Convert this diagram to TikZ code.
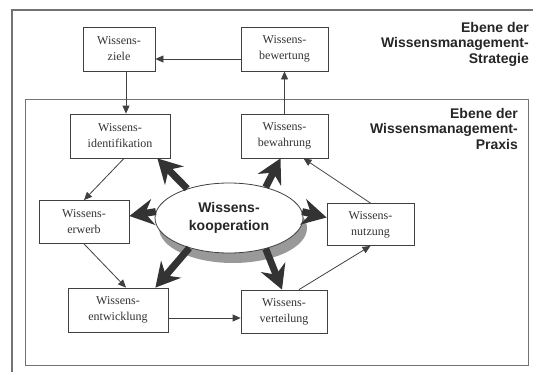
\documentclass[tikz,border=0pt]{standalone}
\usepackage{fontspec}
\setmainfont{Liberation Serif}
\newfontfamily\headfont{Liberation Sans}
\usetikzlibrary{arrows.meta,shadows,shapes.geometric}

\begin{document}
\begin{tikzpicture}[x=1pt,y=-1pt,
  wbox/.style={draw=black!75, line width=0.8pt, fill=white, align=center, inner sep=0pt,
    font=\fontsize{12}{16}\selectfont, text=black!80},
  level/.style={anchor=north east, align=right, inner sep=0pt,
    font=\headfont\bfseries\fontsize{14}{15.5}\selectfont, text=black!85},
  thin/.style={draw=black!75, line width=0.8pt, -{Triangle[length=8pt,width=7pt]}},
  fat/.style={draw=black!80, line width=7pt, -{Stealth[length=24pt,width=26pt,inset=8pt]}},
  frame/.style={draw=black!55, line width=1.2pt}]
\useasboundingbox (0,0) rectangle (533,372);
\clip (0,0) rectangle (533,372);

% the two levels
\draw [frame] (12,10) rectangle (560,400);
\draw [frame, line width=1pt] (25,99) rectangle (528,365);
\node [level] (strat) at (529,22) {Ebene der\\Wissensmanagement-\\Strategie};
\node [level] (praxis) at (518,108) {Ebene der\\Wissensmanagement-\\Praxis};

% boxes
\node [wbox, minimum width=72pt, minimum height=44pt] (ziele) at (119,49) {Wissens-\\ziele};
\node [wbox, minimum width=87pt, minimum height=44pt] (bewertung) at (284.5,49) {Wissens-\\bewertung};
\node [wbox, minimum width=100pt, minimum height=44pt] (ident) at (120,136) {Wissens-\\identifikation};
\node [wbox, minimum width=87pt, minimum height=44pt] (bewahrung) at (284.5,136) {Wissens-\\bewahrung};
\node [wbox, minimum width=90pt, minimum height=43pt] (erwerb) at (84,222) {Wissens-\\erwerb};
\node [wbox, minimum width=87pt, minimum height=42pt] (nutzung) at (370.5,224.5) {Wissens-\\nutzung};
\node [wbox, minimum width=100pt, minimum height=44pt] (entw) at (118,310) {Wissens-\\entwicklung};
\node [wbox, minimum width=86pt, minimum height=43pt] (vert) at (284,311.5) {Wissens-\\verteilung};
\node [draw=black!75, line width=0.8pt, fill=white, ellipse, minimum width=148pt, minimum height=70pt,
  inner sep=0pt, align=center, font=\headfont\bfseries\fontsize{14}{18}\selectfont, text=black!85,
  drop shadow={shadow xshift=4pt, shadow yshift=-10pt, opacity=1, fill=black!40}] (koop) at (229,218)
  {Wissens-\\kooperation};

% thin cycle arrows
\path ([yshift=-10pt]bewertung.west) coordinate (bz);
\path ([yshift=-8pt]entw.east) coordinate (ev);
\draw [thin] (bz) -- (bz -| ziele.east);
\draw [thin] ([xshift=7pt]ziele.south) -- ([xshift=6pt]ident.north);
\draw [thin] (bewahrung.north) -- (bewertung.south);
\draw [thin] ([xshift=4pt]ident.south) -- (erwerb.north);
\draw [thin] (erwerb.south) -- ([xshift=8pt]entw.north);
\draw [thin] (ev) -- (ev -| vert.west);
\draw [thin] ([xshift=15pt]vert.north) -- (nutzung.south);
\draw [thin] (nutzung.north) -- ([xshift=19pt]bewahrung.south);

% fat arrows out of the cooperation
\draw [fat] (koop.145) -- ([xshift=-13pt]ident.south east);
\draw [fat] (koop.40) -- ([xshift=-4pt]bewahrung.south);
\draw [fat] (koop.175) -- ([yshift=6pt]erwerb.east);
\draw [fat] (koop.5) -- ([yshift=7pt]nutzung.west);
\draw [fat] (koop.217) -- ([xshift=-13pt]entw.north east);
\draw [fat] (koop.320) -- ([xshift=-2pt]vert.north);

\end{tikzpicture}
\end{document}
